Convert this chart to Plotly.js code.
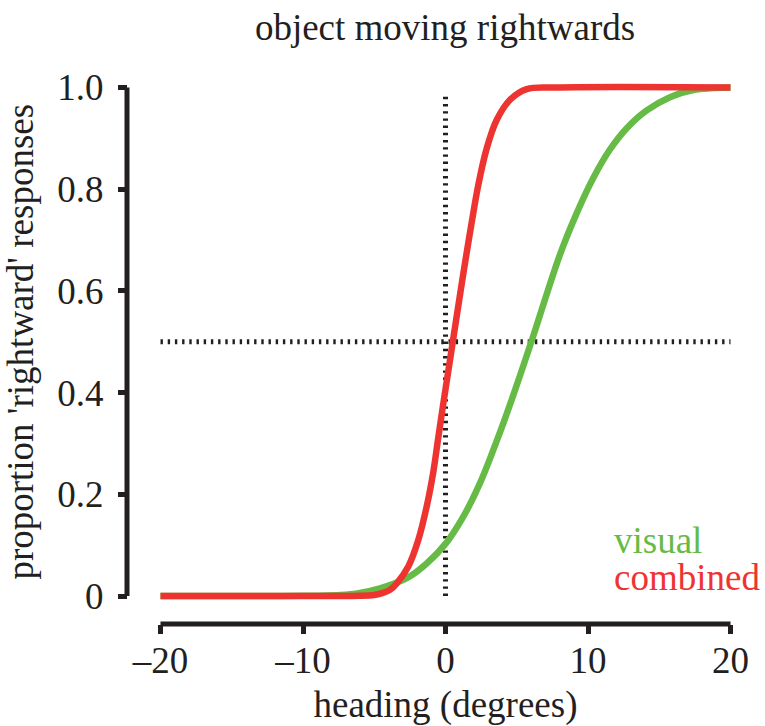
<!DOCTYPE html>
<html>
<head>
<meta charset="utf-8">
<script src="https://cdn.plot.ly/plotly-3.0.1.min.js"></script>
<style>html,body{margin:0;padding:0;background:#fff;}#chart{width:765px;height:726px;}</style>
</head>
<body>
<div id="chart"></div>
<script>
// ---- data ----
const combinedX = [-20, -8, -6, -5, -4.5, -3.9, -3.42, -2.61, -1.91, -1.32, -0.85, -0.53, -0.2, 0.2, 0.6, 1.0, 1.37, 1.84, 2.3, 2.89, 3.59, 4.53, 5.7, 8, 20];
const combinedY = [0, 0, 0.0005, 0.002, 0.005, 0.012, 0.025, 0.058, 0.110, 0.176, 0.245, 0.307, 0.370, 0.443, 0.516, 0.589, 0.655, 0.735, 0.808, 0.880, 0.936, 0.976, 0.997, 1.0, 1.0];
const visualX = [-20, -10, -7.4, -6.2, -4.6, -2.72, -1.32, 0.04, 1.25, 2.42, 3.65, 4.88, 6.05, 8.04, 9.21, 10.37, 11.54, 12.72, 14.12, 15.75, 17.39, 20];
const visualY = [0, 0.0003, 0.002, 0.005, 0.015, 0.035, 0.064, 0.104, 0.156, 0.222, 0.309, 0.405, 0.502, 0.672, 0.753, 0.822, 0.878, 0.920, 0.955, 0.981, 0.995, 1.0];
const vRefX = [0, 0];
const vRefY = [0, 0.99];
const hRefX = [-20, 20];
const hRefY = [0.5, 0.5];
const xTickVals = [-20, -10, 0, 10, 20];
const xTickText = ['\u201320', '\u201310', '0', '10', '20'];
const yTickVals = [0, 0.2, 0.4, 0.6, 0.8, 1.0];
const yTickText = ['0', '0.2', '0.4', '0.6', '0.8', '1.0'];
const xRange = [-20, 20];
const yRange = [0, 1];

// ---- layout geometry (pixels) ----
const W = 765, H = 726;
const X0px = 160.5, X1px = 730.5;   // x = -20 .. 20
const Y0px = 596, Y1px = 87.5;      // y = 0 .. 1
const pad = 6;
const pxPerX = (X1px - X0px) / (xRange[1] - xRange[0]);
const pxPerY = (Y0px - Y1px) / (yRange[1] - yRange[0]);
const xAxisLinePx = 624, yAxisLinePx = 127;

const ink = '#231f20';
const red = '#ee3431';
const green = '#66bb46';
const font = 'Liberation Serif, Times New Roman, serif';
const fs = 37;

const traces = [
  {x: hRefX, y: hRefY, mode: 'lines', line: {color: ink, width: 5, dash: '2.4px,4.8px'}, hoverinfo: 'skip', showlegend: false},
  {x: vRefX, y: vRefY, mode: 'lines', line: {color: ink, width: 5, dash: '2.4px,4.8px'}, hoverinfo: 'skip', showlegend: false},
  {x: visualX, y: visualY, name: 'visual', mode: 'lines', line: {color: green, width: 6.5, shape: 'spline', smoothing: 1}, showlegend: false},
  {x: combinedX, y: combinedY, name: 'combined', mode: 'lines', line: {color: red, width: 6.5, shape: 'spline', smoothing: 1}, showlegend: false}
];

const layout = {
  width: W, height: H,
  margin: {l: 0, r: 0, t: 0, b: 0},
  paper_bgcolor: '#fff', plot_bgcolor: '#fff',
  font: {family: font, size: fs, color: ink},
  title: {text: 'object moving rightwards', font: {family: font, size: fs, color: ink},
          x: 445 / W, xanchor: 'center', xref: 'paper', y: 1 - 27 / H, yref: 'container', yanchor: 'middle'},
  xaxis: {
    domain: [(X0px - pad) / W, (X1px + pad) / W],
    range: [xRange[0] - pad / pxPerX, xRange[1] + pad / pxPerX],
    anchor: 'free', position: (H - xAxisLinePx) / H,
    showline: false, showgrid: false, zeroline: false,
    ticks: 'outside', ticklen: 9, tickwidth: 5, tickcolor: ink,
    ticklabelstandoff: -5,
    tickvals: xTickVals, ticktext: xTickText,
    tickfont: {family: font, size: fs, color: ink},
    title: {text: 'heading (degrees)', font: {family: font, size: fs, color: ink}}
  },
  yaxis: {
    domain: [(H - Y0px - pad) / H, (H - Y1px + pad) / H],
    range: [yRange[0] - pad / pxPerY, yRange[1] + pad / pxPerY],
    anchor: 'free', position: yAxisLinePx / W,
    showline: false, showgrid: false, zeroline: false,
    ticks: 'outside', ticklen: 9, tickwidth: 5, tickcolor: ink,
    ticklabelstandoff: 7,
    tickvals: yTickVals, ticktext: yTickText,
    tickfont: {family: font, size: fs, color: ink},
    title: {text: "proportion 'rightward' responses", standoff: 14, font: {family: font, size: fs, color: ink}}
  },
  shapes: [
    {type: 'line', xref: 'x', yref: 'paper', x0: xRange[0], x1: xRange[1],
     y0: (H - xAxisLinePx) / H, y1: (H - xAxisLinePx) / H, line: {color: ink, width: 5}},
    {type: 'line', xref: 'paper', yref: 'y', x0: yAxisLinePx / W, x1: yAxisLinePx / W,
     y0: yRange[0], y1: yRange[1], line: {color: ink, width: 5}}
  ],
  annotations: [
    {text: 'visual', xref: 'paper', yref: 'paper', x: 612 / W, y: (H - 540) / H, xanchor: 'left', yanchor: 'middle',
     showarrow: false, font: {family: font, size: fs, color: green}},
    {text: 'combined', xref: 'paper', yref: 'paper', x: 612 / W, y: (H - 577) / H, xanchor: 'left', yanchor: 'middle',
     showarrow: false, font: {family: font, size: fs, color: red}}
  ]
};

Plotly.newPlot('chart', traces, layout, {displayModeBar: false, staticPlot: true});
</script>
</body>
</html>
